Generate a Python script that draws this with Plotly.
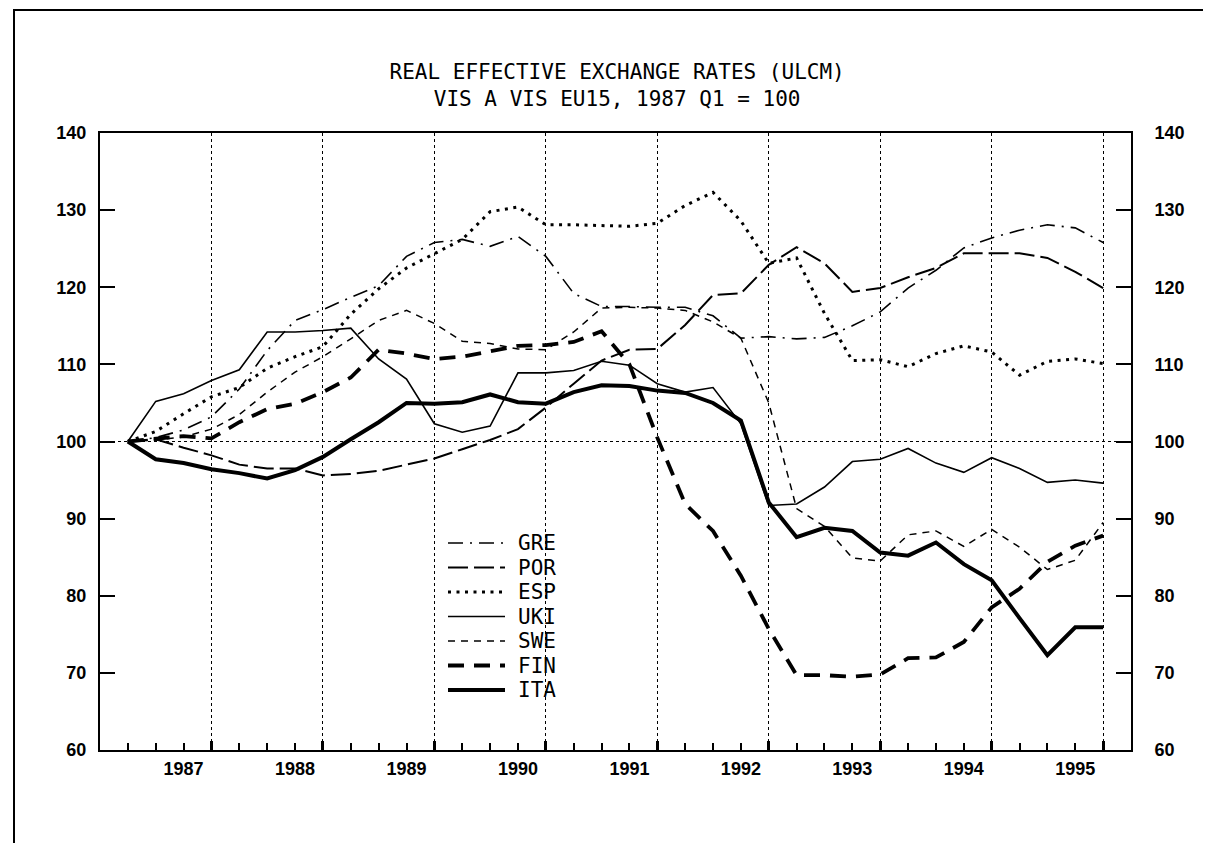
import plotly.graph_objects as go

# ---------------- data ----------------
YEARS = [1987, 1988, 1989, 1990, 1991, 1992, 1993, 1994, 1995]
QUARTERS = [f"{y}Q{q}" for y in YEARS for q in (1, 2, 3, 4)]
BASE = 100  # 1987 Q1 = 100

GRE = [100.0, 100.5, 101.5, 103.2, 106.8, 111.8, 115.7, 117.1, 118.7, 120.2, 124.0, 125.8,
       126.2, 125.3, 126.6, 124.0, 119.2, 117.5, 117.5, 117.4, 117.4, 116.3, 113.4, 113.6,
       113.3, 113.5, 115.0, 116.8, 119.9, 122.2, 125.1, 126.4, 127.4, 128.1, 127.7, 125.8]
POR = [100.0, 100.3, 99.2, 98.2, 97.0, 96.5, 96.5, 95.6, 95.8, 96.2, 97.0, 97.8,
       99.0, 100.2, 101.6, 104.4, 107.5, 110.5, 111.9, 112.0, 115.1, 119.0, 119.2, 122.9,
       125.2, 123.1, 119.4, 119.9, 121.3, 122.5, 124.4, 124.4, 124.4, 123.8, 122.0, 119.9]
ESP = [100.0, 101.3, 103.6, 105.8, 107.0, 109.5, 111.0, 112.3, 116.5, 119.8, 122.5, 124.4,
       126.2, 129.8, 130.4, 128.1, 128.1, 128.0, 127.9, 128.3, 130.6, 132.3, 128.6, 123.1,
       123.8, 116.6, 110.5, 110.6, 109.7, 111.4, 112.4, 111.6, 108.6, 110.4, 110.7, 110.1]
UKI = [100.0, 105.2, 106.2, 107.9, 109.3, 114.2, 114.2, 114.4, 114.7, 110.7, 108.1, 102.3,
       101.2, 102.0, 108.9, 108.9, 109.2, 110.4, 109.9, 107.5, 106.4, 107.0, 102.3, 91.7,
       91.9, 94.1, 97.4, 97.7, 99.1, 97.2, 96.0, 97.9, 96.5, 94.7, 95.0, 94.6]
SWE = [100.0, 100.2, 100.6, 101.6, 103.5, 106.4, 109.0, 111.0, 113.3, 115.7, 117.0, 115.3,
       113.0, 112.7, 112.0, 111.9, 114.2, 117.3, 117.4, 117.3, 117.0, 115.5, 113.4, 105.0,
       91.3, 89.0, 84.9, 84.5, 87.9, 88.4, 86.4, 88.6, 86.3, 83.4, 84.6, 89.5]
FIN = [100.0, 100.3, 100.7, 100.4, 102.5, 104.2, 104.9, 106.4, 108.3, 111.9, 111.4, 110.7,
       111.0, 111.7, 112.4, 112.5, 112.9, 114.3, 110.0, 100.5, 91.9, 88.4, 82.6, 75.7,
       69.7, 69.7, 69.5, 69.8, 71.9, 72.0, 74.0, 78.5, 80.9, 84.4, 86.5, 87.8]
ITA = [100.0, 97.7, 97.2, 96.4, 95.9, 95.2, 96.3, 98.0, 100.3, 102.5, 105.0, 104.9,
       105.1, 106.1, 105.1, 104.9, 106.4, 107.3, 107.2, 106.6, 106.3, 105.0, 102.7, 92.1,
       87.6, 88.8, 88.4, 85.6, 85.2, 86.9, 84.1, 82.0, 77.1, 72.3, 75.9, 75.9]

SERIES_NAMES = ["GRE", "POR", "ESP", "UKI", "SWE", "FIN", "ITA"]
SERIES_VALUES = [GRE, POR, ESP, UKI, SWE, FIN, ITA]
Y_TICKS = [60, 70, 80, 90, 100, 110, 120, 130, 140]

# ---------------- styles ----------------
STYLES = {
    "GRE": dict(width=1.6, dash="15px,7px,2px,7px"),
    "POR": dict(width=2.0, dash="20px,6px"),
    "ESP": dict(width=3.0, dash="3px,5.5px"),
    "UKI": dict(width=1.6, dash="solid"),
    "SWE": dict(width=1.5, dash="7px,6px"),
    "FIN": dict(width=3.8, dash="16px,10px"),
    "ITA": dict(width=4.0, dash="solid"),
}

# page geometry (pixels)
W, H = 1211, 843
ML, MR, MT, MB = 92, 88, 125, 101
PW, PH = W - ML - MR, H - MT - MB


def px_x(px):
    return (px - ML) / PW


def px_y(py):
    return (H - MB - py) / PH


xpos = list(range(len(QUARTERS)))
grid_pos = [QUARTERS.index(f"{y}Q4") for y in YEARS]
label_pos = [QUARTERS.index(f"{y}Q3") for y in YEARS]
x_range = [-1, len(QUARTERS)]

fig = go.Figure()
for name, vals in zip(SERIES_NAMES, SERIES_VALUES):
    st = STYLES[name]
    fig.add_trace(go.Scatter(
        x=xpos, y=vals, name=name, mode="lines", showlegend=False,
        line=dict(color="black", width=st["width"], dash=st["dash"]),
    ))

# invisible helpers so the secondary axes are drawn
fig.add_trace(go.Scatter(x=[None], y=[None], xaxis="x2", yaxis="y", showlegend=False, hoverinfo="skip"))
fig.add_trace(go.Scatter(x=[None], y=[None], xaxis="x", yaxis="y2", showlegend=False, hoverinfo="skip"))

ytickfont = dict(family="Liberation Sans", size=18, color="black", weight="bold")
xtickfont = dict(family="Liberation Sans", size=18, color="black", weight="bold")
mono = "DejaVu Sans Mono"

# legend (key lines + labels)
shapes = [
    dict(type="line", xref="paper", x0=0, x1=1, yref="y", y0=BASE, y1=BASE,
         line=dict(color="black", width=1, dash="dot"), layer="below"),
    dict(type="rect", xref="paper", yref="paper",
         x0=px_x(6), x1=px_x(1209), y0=px_y(860), y1=px_y(2),
         line=dict(color="black", width=2), fillcolor="rgba(0,0,0,0)", layer="above"),
]
annotations = []
LEG_TOP, LEG_STEP = 535, 24.5
for k, name in enumerate(SERIES_NAMES):
    st = STYLES[name]
    yy = px_y(LEG_TOP + k * LEG_STEP)
    shapes.append(dict(type="line", xref="paper", yref="paper",
                       x0=px_x(440), x1=px_x(497), y0=yy, y1=yy,
                       line=dict(color="black", width=st["width"], dash=st["dash"])))
    annotations.append(dict(text=name, xref="paper", yref="paper", x=px_x(508), y=yy,
                            xanchor="left", yanchor="middle", showarrow=False,
                            font=dict(family=mono, size=21, color="black")))

fig.update_layout(
    width=W, height=H,
    paper_bgcolor="white", plot_bgcolor="white",
    margin=dict(l=ML, r=MR, t=MT, b=MB),
    showlegend=False,
    title=dict(
        text="REAL EFFECTIVE EXCHANGE RATES (ULCM)<br>VIS A VIS EU15, 1987 Q1 = 100",
        font=dict(family=mono, size=21, color="black"),
        x=0.503, xanchor="center", y=1 - 71 / H, yanchor="top",
    ),
    xaxis=dict(
        range=x_range, tickmode="array", tickvals=grid_pos, showticklabels=False,
        ticks="inside", ticklen=9, tickwidth=3, tickcolor="black",
        showgrid=True, gridcolor="black", gridwidth=1, griddash="dot",
        showline=True, linecolor="black", linewidth=2, mirror=True, zeroline=False,
        minor=dict(ticks="inside", ticklen=7, tickwidth=1.5, tickcolor="black",
                   tickmode="linear", tick0=0, dtick=1, showgrid=False),
    ),
    xaxis2=dict(
        range=x_range, overlaying="x", side="bottom", anchor="y",
        tickmode="array", tickvals=label_pos, ticktext=[str(y) for y in YEARS],
        ticks="", showgrid=False, showline=False, zeroline=False,
        tickfont=xtickfont, ticklabelstandoff=6,
    ),
    yaxis=dict(
        range=[Y_TICKS[0], Y_TICKS[-1]], tickmode="array", tickvals=Y_TICKS,
        ticks="inside", ticklen=15, tickwidth=1.5, tickcolor="black",
        showgrid=False, zeroline=False, showline=True, linecolor="black", linewidth=2,
        tickfont=ytickfont, ticklabelstandoff=8,
    ),
    yaxis2=dict(
        range=[Y_TICKS[0], Y_TICKS[-1]], overlaying="y", side="right", anchor="x",
        tickmode="array", tickvals=Y_TICKS,
        ticks="inside", ticklen=15, tickwidth=1.5, tickcolor="black",
        showgrid=False, zeroline=False, showline=True, linecolor="black", linewidth=2,
        tickfont=ytickfont, ticklabelstandoff=18,
    ),
    shapes=shapes,
    annotations=annotations,
)

fig.write_html("out.html")
